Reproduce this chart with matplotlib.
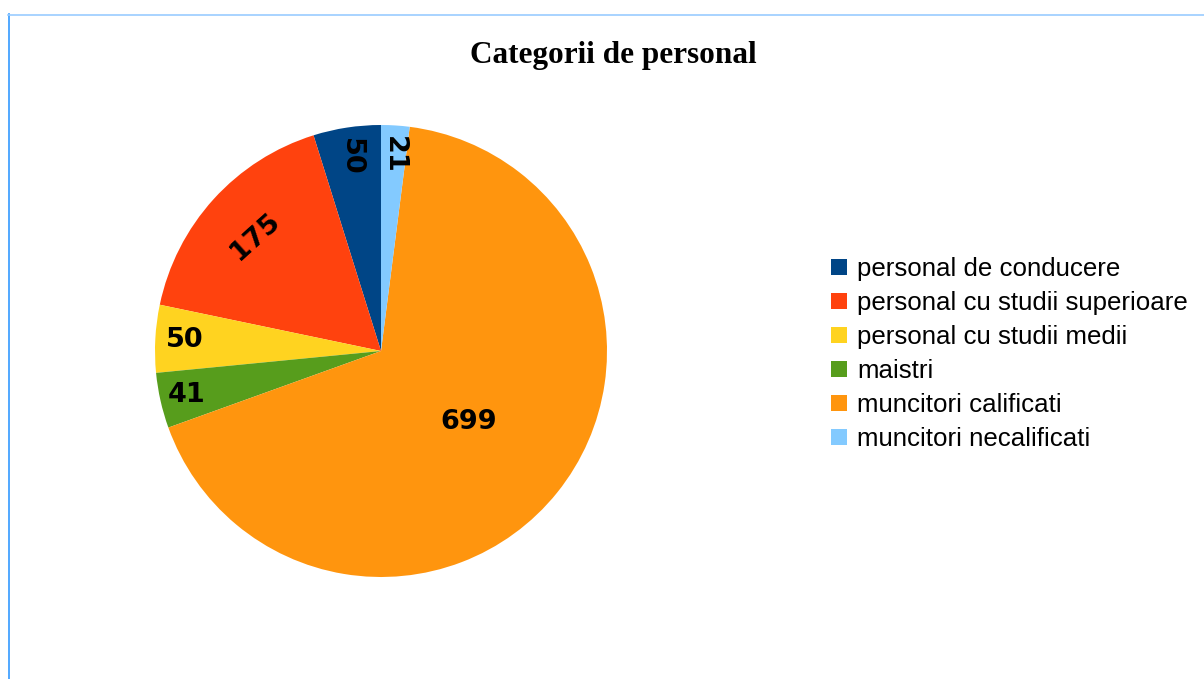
import matplotlib.pyplot as plt
from matplotlib.patches import Patch
import numpy as np

# data
categories = ["personal de conducere", "personal cu studii superioare",
              "personal cu studii medii", "maistri",
              "muncitori calificati", "muncitori necalificati"]
values = [50, 175, 50, 41, 699, 21]
colors = ["#004586", "#ff420e", "#ffd320", "#579d1c", "#ff950e", "#83caff"]

# label placement (fraction of radius) and rotation per slice
label_r = [0.87, 0.75, 0.87, 0.88, 0.5, 0.87]
label_rot = [-90, 42, 0, 0, 0, -90]

W, H = 1204, 679
fig = plt.figure(figsize=(W / 100, H / 100), dpi=100)

# frame lines (left and top)
fig.add_artist(plt.Line2D([8.5 / W, 8.5 / W], [0, 1 - 14 / H], color="#3399ff", lw=1.2))
fig.add_artist(plt.Line2D([8 / W, 1], [1 - 14.5 / H, 1 - 14.5 / H], color="#99ccff", lw=1.2))

cx, cy, r = 381, 351, 226
ax = fig.add_axes([(cx - r) / W, (H - cy - r) / H, 2 * r / W, 2 * r / H])
wedges, _ = ax.pie(values, colors=colors, startangle=90, counterclock=True,
                   radius=1, wedgeprops=dict(linewidth=0))
ax.set_xlim(-1, 1)
ax.set_ylim(-1, 1)
ax.set_aspect("equal")
ax.axis("off")

for w, v, lr, rot in zip(wedges, values, label_r, label_rot):
    ang = np.deg2rad((w.theta1 + w.theta2) / 2)
    ax.text(lr * np.cos(ang), lr * np.sin(ang), str(v), ha="center", va="center",
            rotation=rot, fontsize=19.5, fontweight="heavy", family="DejaVu Sans",
            color="black")

fig.text(613 / W, 1 - 55 / H, "Categorii de personal", ha="center", va="center",
         fontsize=22.5, fontweight="bold", family="Liberation Serif")

handles = [Patch(facecolor=c, edgecolor="none") for c in colors]
fig.legend(handles, categories, loc="upper left", bbox_to_anchor=(831 / W, 1 - 257 / H),
           frameon=False, prop={"family": "Liberation Sans", "size": 18.6},
           handlelength=0.6, handleheight=0.6, handletextpad=0.4, labelspacing=0.39,
           borderaxespad=0, borderpad=0)

fig.savefig("out.png", dpi=100)
